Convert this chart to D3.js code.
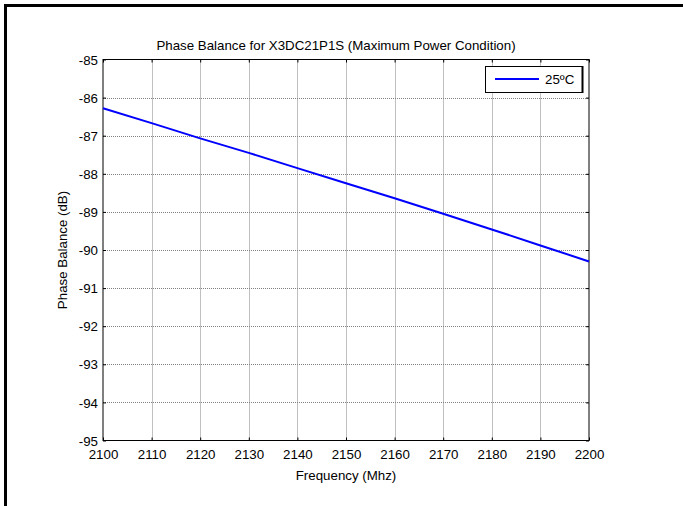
<!DOCTYPE html>
<html><head><meta charset="utf-8">
<script src="https://cdn.jsdelivr.net/npm/d3@7"></script>
<style>body{margin:0;background:#fff}svg{display:block;font-family:"Liberation Sans",Arial,sans-serif}</style>
</head><body><svg id="c" width="683" height="506"></svg>
<script>
const freq = [2100, 2110, 2120, 2130, 2140, 2150, 2160, 2170, 2180, 2190, 2200];
const phase = [-86.28, -86.67, -87.07, -87.45, -87.85, -88.25, -88.64, -89.05, -89.46, -89.88, -90.3];
const xTicks = [2100, 2110, 2120, 2130, 2140, 2150, 2160, 2170, 2180, 2190, 2200];
const yTicks = [-85, -86, -87, -88, -89, -90, -91, -92, -93, -94, -95];
const title = "Phase Balance for X3DC21P1S (Maximum Power Condition)";
const xLabel = "Frequency (Mhz)";
const yLabel = "Phase Balance (dB)";
const legendLabel = "25ºC";

const FS = 13.3;
const svg = d3.select("#c");
const L = 103, R = 589, T = 59.5, B = 440.5;
const x = d3.scaleLinear().domain([2100, 2200]).range([L, R]);
const y = d3.scaleLinear().domain([-95, -85]).range([B, T]);

// outer frame
svg.append("line").attr("x1", 4).attr("x2", 683).attr("y1", 5.5).attr("y2", 5.5).attr("stroke", "#000").attr("stroke-width", 3);
svg.append("line").attr("x1", 5.5).attr("x2", 5.5).attr("y1", 4).attr("y2", 506).attr("stroke", "#000").attr("stroke-width", 3);

// grid
const g = svg.append("g");
g.selectAll(".gx").data(xTicks.slice(1, -1)).join("line")
  .attr("x1", d => Math.round(x(d)) + 0.5).attr("x2", d => Math.round(x(d)) + 0.5)
  .attr("y1", T).attr("y2", B).attr("stroke", "#808080").attr("stroke-width", 1).attr("stroke-dasharray", "1,1");
g.selectAll(".gy").data(yTicks.slice(1, -1)).join("line")
  .attr("y1", d => Math.round(y(d)) + 0.5).attr("y2", d => Math.round(y(d)) + 0.5)
  .attr("x1", L).attr("x2", R).attr("stroke", "#808080").attr("stroke-width", 1).attr("stroke-dasharray", "1,1");

// box
svg.append("rect").attr("x", L).attr("y", T).attr("width", R - L).attr("height", B - T)
  .attr("fill", "none").attr("stroke", "#000").attr("stroke-width", 1);

// axes
const ax = svg.append("g").attr("transform", `translate(0,${B})`)
  .call(d3.axisBottom(x).tickValues(xTicks).tickSize(-3).tickPadding(11).tickFormat(d => String(d)));
const axT = svg.append("g").attr("transform", `translate(0,${T})`)
  .call(d3.axisTop(x).tickValues(xTicks).tickSize(-3).tickFormat(""));
const ay = svg.append("g").attr("transform", `translate(${L},0)`)
  .call(d3.axisLeft(y).tickValues(yTicks).tickSize(-3).tickPadding(5).tickFormat(d => String(d)));
const ayR = svg.append("g").attr("transform", `translate(${R},0)`)
  .call(d3.axisRight(y).tickValues(yTicks).tickSize(-3).tickFormat(""));
[ax, axT, ay, ayR].forEach(a => {
  a.select(".domain").remove();
  a.selectAll("line").attr("stroke", "#000");
  a.selectAll("text").attr("font-size", FS).attr("fill", "#000").attr("font-family", '"Liberation Sans",Arial,sans-serif');
});
ax.selectAll("text").attr("dy", "0.6em");
ay.selectAll("text").attr("dy", "0.35em");

// line
svg.append("path").datum(freq.map((f, i) => [f, phase[i]]))
  .attr("d", d3.line().x(d => x(d[0])).y(d => y(d[1])))
  .attr("fill", "none").attr("stroke", "#0000ff").attr("stroke-width", 2);

// title and labels
svg.append("text").attr("x", 336).attr("y", 50).attr("text-anchor", "middle")
  .attr("font-size", FS).text(title);
svg.append("text").attr("x", (L + R) / 2).attr("y", 480).attr("text-anchor", "middle")
  .attr("font-size", FS).text(xLabel);
svg.append("text").attr("transform", `translate(67,${(T + B) / 2}) rotate(-90)`).attr("text-anchor", "middle")
  .attr("font-size", FS).text(yLabel);

// legend
const lg = svg.append("g");
lg.append("rect").attr("x", 485.5).attr("y", 66.5).attr("width", 97).attr("height", 26)
  .attr("fill", "#fff").attr("stroke", "#000").attr("stroke-width", 1);
lg.append("line").attr("x1", 582.5).attr("x2", 582.5).attr("y1", 66).attr("y2", 93).attr("stroke", "#000").attr("stroke-width", 2);
lg.append("line").attr("x1", 495).attr("x2", 539).attr("y1", 79).attr("y2", 79).attr("stroke", "#0000ff").attr("stroke-width", 2);
lg.append("text").attr("x", 545).attr("y", 84).attr("font-size", FS).text(legendLabel);
</script></body></html>
